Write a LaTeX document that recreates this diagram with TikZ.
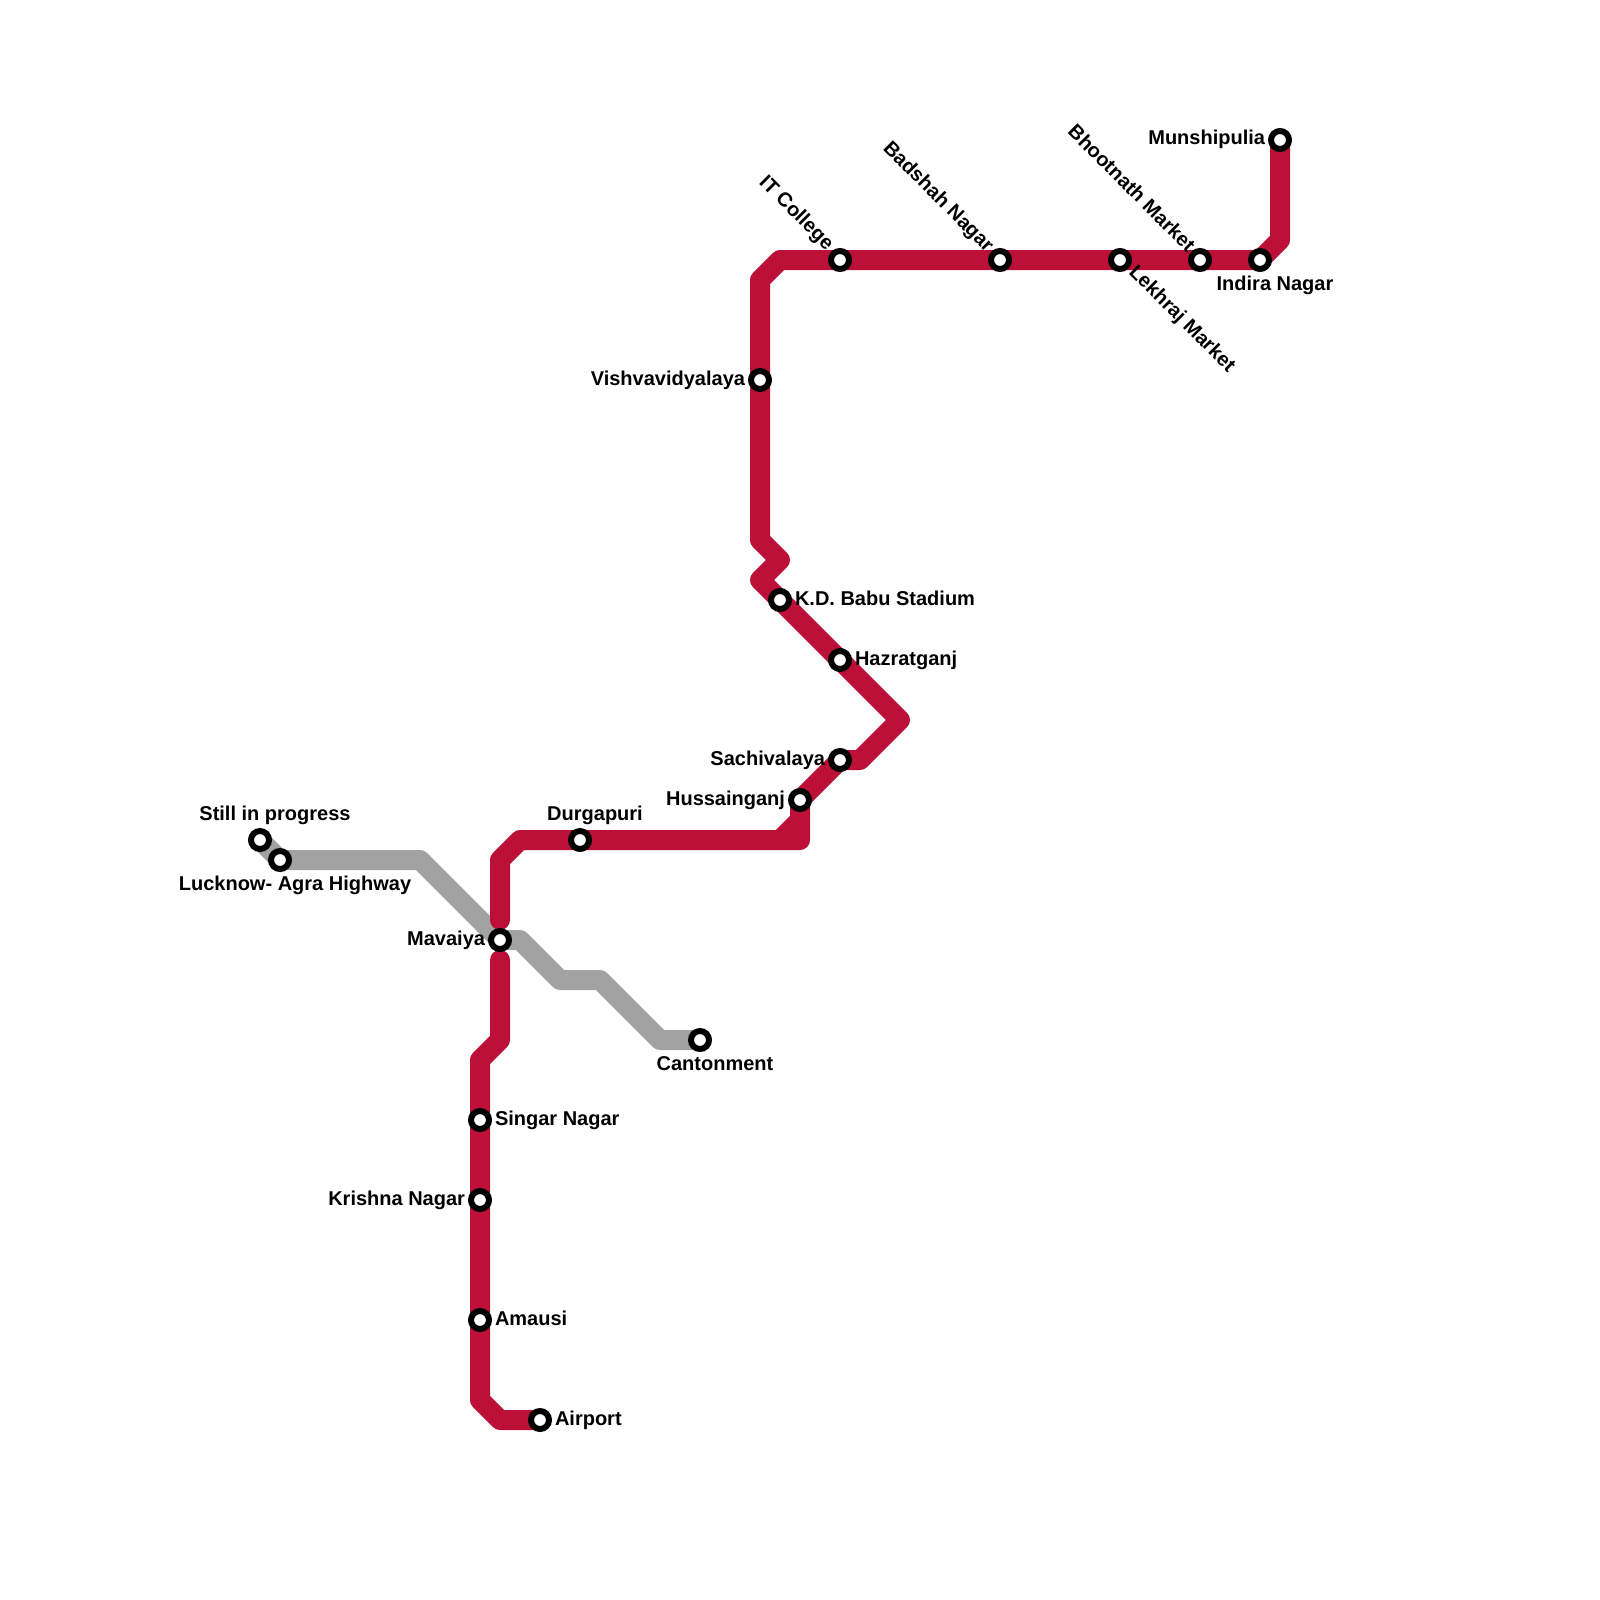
\documentclass[tikz,border=0pt]{standalone}
\usepackage{fontspec}
\setmainfont{Liberation Sans}[BoldFont={Liberation Sans Bold}]
\definecolor{redline}{HTML}{BD1038}
\definecolor{grayline}{HTML}{A2A2A2}
\tikzset{
 redroute/.style={draw=redline,line width=20pt,line join=round,line cap=round},
 grayroute/.style={draw=grayline,line width=20pt,line join=round,line cap=round},
 station/.style={circle,draw=black,fill=white,line width=6pt,minimum size=18pt,inner sep=0pt,outer sep=0pt},
 lbl/.style={inner sep=0pt,outer sep=0pt,font=\fontsize{20}{20}\selectfont\bfseries,text=black},
 lw/.style={lbl,anchor=base east},
 le/.style={lbl,anchor=base west},
 lc/.style={lbl,anchor=base},
}
\begin{document}
\begin{tikzpicture}[x=1pt,y=-1pt]
\useasboundingbox (0,0) rectangle (1600,1600);
% waypoints
\coordinate (r1) at (1280,240);
\coordinate (r2) at (1260,260);
\coordinate (r3) at (780,260);
\coordinate (r4) at (760,280);
\coordinate (r5) at (760,540);
\coordinate (r6) at (780,560);
\coordinate (r7) at (760,580);
\coordinate (r8) at (900,720);
\coordinate (r9) at (860,760);
\coordinate (r10) at (800,840);
\coordinate (r10a) at (800,820);
\coordinate (r10b) at (780,840);
\coordinate (r11) at (520,840);
\coordinate (r12) at (500,860);
\coordinate (r13) at (500,920);
\coordinate (s1) at (500,960);
\coordinate (s2) at (500,1040);
\coordinate (s3) at (480,1060);
\coordinate (s4) at (480,1400);
\coordinate (s5) at (500,1420);
\coordinate (g1) at (280,860);
\coordinate (g2) at (420,860);
\coordinate (g3) at (500,940);
\coordinate (g4) at (520,940);
\coordinate (g5) at (560,980);
\coordinate (g6) at (600,980);
\coordinate (g7) at (660,1040);
% station anchors (centres)
\coordinate (pMun) at (1280,140);
\coordinate (pInd) at (1260,260);
\coordinate (pSac) at (840,760);
\coordinate (pHus) at (800,800);
\coordinate (pStill) at (260,840);
\coordinate (pCant) at (700,1040);
\coordinate (pAir) at (540,1420);
% routes
\path[grayroute] (pStill) -- (g1) -- (g2) -- (g3) -- (g4) -- (g5) -- (g6) -- (g7) -- (pCant);
\path[redroute] (pMun) -- (r1) -- (r2) -- (r3) -- (r4) -- (r5) -- (r6) -- (r7) -- (r8) -- (r9) -- (pSac) -- (pHus) -- (r10) -- (r11) -- (r12) -- (r13);
\path[redroute] (r10a) -- (r10b);
\path[redroute] (s1) -- (s2) -- (s3) -- (s4) -- (s5) -- (pAir);
% stations
\foreach \n/\p in {Mun/{1280,140},Ind/{1260,260},Bho/{1200,260},Lek/{1120,260},Bad/{1000,260},ITC/{840,260},Vis/{760,380},KDB/{780,600},Haz/{840,660},Sac/{840,760},Hus/{800,800},Dur/{580,840},Mav/{500,940},Sin/{480,1120},Kri/{480,1200},Ama/{480,1320},Air/{540,1420},Sti/{260,840},Luc/{280,860},Can/{700,1040}}
  \node[station] (\n) at (\p) {};
% labels
\node[lw] (tMun) at (1265,145) {Munshipulia};
\node[lc] (tInd) at (1275,290.5) {Indira Nagar};
\node[lbl,anchor=base east,rotate=-45] (tBho) at (1187,253) {Bhootnath Market};
\node[lbl,anchor=base west,rotate=-45] (tLek) at (1128,273) {Lekhraj Market};
\node[lbl,anchor=base east,rotate=-45] (tBad) at (986,253) {Badshah Nagar};
\node[lbl,anchor=base east,rotate=-45] (tITC) at (826,251) {IT College};
\node[lw] (tVis) at (745,385) {Vishvavidyalaya};
\node[le] (tKDB) at (795,605) {K.D. Babu Stadium};
\node[le] (tHaz) at (855,665) {Hazratganj};
\node[lw] (tSac) at (825,765) {Sachivalaya};
\node[lw] (tHus) at (785,805) {Hussainganj};
\node[lc] (tDur) at (595,820) {Durgapuri};
\node[lw] (tMav) at (485,945) {Mavaiya};
\node[le] (tSin) at (495,1125) {Singar Nagar};
\node[lw] (tKri) at (465,1205) {Krishna Nagar};
\node[le] (tAma) at (495,1325) {Amausi};
\node[le] (tAir) at (555,1425) {Airport};
\node[lc] (tSti) at (275,820) {Still in progress};
\node[lc] (tLuc) at (295,890) {Lucknow- Agra Highway};
\node[lc] (tCan) at (715,1070) {Cantonment};
\end{tikzpicture}
\end{document}
